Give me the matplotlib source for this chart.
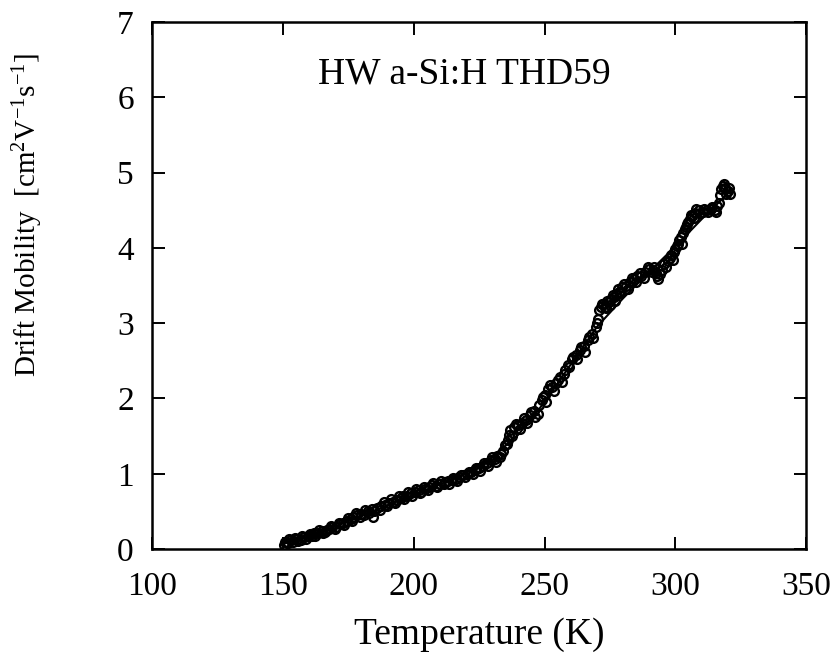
import matplotlib
matplotlib.use("Agg")
import matplotlib.pyplot as plt

# Drift mobility vs temperature (HW a-Si:H, sample THD59), two temperature sweeps
sweep_a_temperature = [
    151.0, 152.0, 153.0, 154.0, 155.5, 157.0, 158.0, 159.5, 161.0, 162.0,
    163.5, 165.0, 166.0, 167.5, 169.0, 170.5, 172.0, 173.0, 174.5, 176.0,
    177.0, 178.5, 180.0, 181.0, 182.5, 184.0, 184.5, 185.0, 187.5, 189.0,
    190.5, 192.0, 193.5, 195.0, 196.0, 197.5, 199.0, 200.5, 202.0, 203.0,
    204.5, 206.0, 207.0, 208.5, 210.0, 211.5, 213.0, 214.5, 216.0, 217.5,
    219.0, 220.5, 222.0, 223.5, 225.0, 226.5, 228.0, 229.5, 231.0, 232.0,
    233.0, 234.0, 235.0, 236.0, 237.0, 238.5, 240.0, 241.5, 243.0, 244.5,
    246.0, 247.5, 249.0, 250.0, 251.5, 253.0, 254.5, 256.0, 257.5, 259.0,
    260.5, 262.0, 263.5, 265.0, 266.5, 268.0, 269.5, 270.5, 271.5, 272.5,
    273.5, 274.5, 275.5, 276.5, 277.5, 278.5, 279.5, 281.0, 282.5, 284.0,
    285.5, 287.0, 288.5, 290.0, 291.0, 292.0, 293.0, 294.0, 295.5, 297.0,
    298.5, 299.5, 300.5, 301.5, 302.5, 303.5, 304.5, 305.5, 306.5, 307.5,
    309.0, 310.5, 312.0, 313.5, 315.0, 316.5, 317.0, 318.0, 319.0, 320.0,
    321.0,
]
sweep_a_mobility = [
    0.10, 0.08, 0.12, 0.10, 0.14, 0.12, 0.16, 0.18, 0.17, 0.21,
    0.22, 0.24, 0.23, 0.27, 0.29, 0.30, 0.33, 0.35, 0.37, 0.40,
    0.43, 0.45, 0.47, 0.45, 0.50, 0.53, 0.42, 0.51, 0.57, 0.58,
    0.61, 0.63, 0.65, 0.68, 0.70, 0.70, 0.74, 0.76, 0.78, 0.76,
    0.80, 0.82, 0.85, 0.84, 0.87, 0.86, 0.90, 0.92, 0.93, 0.96,
    0.98, 1.00, 1.03, 1.05, 1.08, 1.10, 1.14, 1.18, 1.20, 1.24,
    1.22, 1.30, 1.38, 1.45, 1.58, 1.62, 1.65, 1.68, 1.72, 1.78,
    1.83, 1.80, 1.98, 2.05, 2.12, 2.15, 2.20, 2.28, 2.32, 2.45,
    2.52, 2.58, 2.65, 2.70, 2.78, 2.85, 2.95, 3.05, 3.22, 3.25,
    3.20, 3.28, 3.32, 3.35, 3.38, 3.42, 3.48, 3.50, 3.55, 3.58,
    3.62, 3.63, 3.68, 3.72, 3.68, 3.75, 3.62, 3.65, 3.78, 3.82,
    3.90, 3.95, 4.02, 4.10, 4.05, 4.25, 4.32, 4.38, 4.42, 4.46,
    4.50, 4.48, 4.50, 4.52, 4.50, 4.60, 4.70, 4.82, 4.80, 4.75,
    4.72,
]

sweep_b_temperature = [
    150.5, 152.5, 154.5, 156.0, 157.5, 159.0, 160.5, 162.5, 164.0, 165.5,
    167.0, 168.5, 170.0, 171.5, 173.5, 175.0, 176.5, 178.0, 179.5, 181.5,
    183.0, 186.0, 187.0, 188.5, 190.0, 191.5, 193.0, 194.5, 196.5, 198.0,
    199.5, 201.0, 202.5, 204.0, 205.5, 207.5, 209.0, 210.5, 212.0, 213.5,
    215.0, 216.5, 218.0, 219.5, 221.0, 222.5, 224.0, 225.5, 227.0, 228.5,
    230.0, 231.5, 233.5, 235.5, 236.5, 237.5, 239.0, 240.5, 242.0, 243.5,
    245.0, 246.5, 248.0, 249.5, 250.5, 252.0, 253.5, 255.0, 256.5, 258.0,
    259.5, 261.0, 262.5, 264.0, 265.5, 267.0, 268.5, 270.0, 271.0, 272.0,
    273.0, 274.0, 275.0, 276.0, 277.0, 278.0, 279.0, 280.5, 282.0, 283.5,
    285.0, 286.5, 288.0, 289.5, 291.5, 292.5, 293.5, 295.0, 296.5, 298.0,
    299.0, 300.0, 301.0, 302.0, 303.0, 304.0, 305.0, 306.0, 307.0, 308.0,
    309.5, 311.0, 312.5, 314.0, 315.5, 316.0, 317.5, 318.5, 319.5, 320.5,
]
sweep_b_mobility = [
    0.06, 0.13, 0.15, 0.11, 0.17, 0.14, 0.20, 0.18, 0.25, 0.21,
    0.26, 0.31, 0.27, 0.35, 0.32, 0.41, 0.38, 0.48, 0.43, 0.52,
    0.48, 0.55, 0.52, 0.62, 0.57, 0.66, 0.61, 0.70, 0.66, 0.76,
    0.71, 0.80, 0.74, 0.83, 0.79, 0.88, 0.82, 0.90, 0.89, 0.86,
    0.95, 0.91, 0.99, 0.96, 1.03, 1.00, 1.08, 1.04, 1.14, 1.10,
    1.22, 1.16, 1.26, 1.40, 1.52, 1.50, 1.66, 1.60, 1.74, 1.68,
    1.82, 1.76, 1.92, 2.02, 1.96, 2.18, 2.10, 2.25, 2.22, 2.38,
    2.42, 2.55, 2.52, 2.68, 2.62, 2.82, 2.80, 3.00, 3.18, 3.26,
    3.22, 3.30, 3.24, 3.38, 3.30, 3.45, 3.40, 3.52, 3.46, 3.60,
    3.55, 3.66, 3.60, 3.74, 3.71, 3.66, 3.58, 3.70, 3.74, 3.86,
    3.84, 3.98, 4.05, 4.15, 4.20, 4.28, 4.35, 4.44, 4.40, 4.52,
    4.46, 4.52, 4.47, 4.54, 4.48, 4.56, 4.78, 4.85, 4.72, 4.80,
]

# Smooth fit curve through the data
fit_temperature = [150, 160, 170, 180, 190, 200, 210, 220, 230, 240,
                   250, 260, 270, 280, 290, 300, 310, 320]
fit_mobility = [0.07, 0.17, 0.30, 0.44, 0.58, 0.72, 0.86, 1.01, 1.22, 1.52,
                1.95, 2.45, 2.95, 3.33, 3.68, 4.02, 4.38, 4.72]

x_ticks = [100, 150, 200, 250, 300, 350]
y_ticks = [0, 1, 2, 3, 4, 5, 6, 7]

plt.rcParams["font.family"] = ["Liberation Serif", "DejaVu Serif"]
plt.rcParams["mathtext.fontset"] = "custom"
plt.rcParams["mathtext.rm"] = "Liberation Serif"
plt.rcParams["mathtext.it"] = "Liberation Serif:italic"

fig = plt.figure(figsize=(8.39, 6.64), dpi=100)
ax = fig.add_axes([0.181, 0.173, 0.780, 0.794])

ax.plot(fit_temperature, fit_mobility, color="black", lw=1.5, zorder=2)
marker_style = dict(linestyle="none", marker="o", markersize=6.3,
                    markerfacecolor="none", markeredgecolor="black",
                    markeredgewidth=1.7, zorder=3)
ax.plot(sweep_a_temperature, sweep_a_mobility, **marker_style)
ax.plot(sweep_b_temperature, sweep_b_mobility, **marker_style)

ax.set_xlim(100, 350)
ax.set_ylim(0, 7)
ax.set_xticks(x_ticks)
ax.set_yticks(y_ticks)
ax.tick_params(axis="both", which="major", direction="in", length=9, width=1.4,
               top=True, right=True, labelsize=24, colors="black")
ax.tick_params(axis="x", pad=16)
ax.tick_params(axis="y", pad=13)
for sp in ax.spines.values():
    sp.set_linewidth(1.8)

ax.set_xlabel("Temperature (K)", fontsize=27, labelpad=11)
ax.set_ylabel(r"Drift Mobility  [cm$^{2}$V$^{-1}$s$^{-1}$]", fontsize=21)
ax.yaxis.set_label_coords(-0.163, 0.634)

ax.text(0.477, 0.90, "HW a-Si:H THD59", transform=ax.transAxes,
        ha="center", va="center", fontsize=27)

fig.savefig("out.png", dpi=100)
